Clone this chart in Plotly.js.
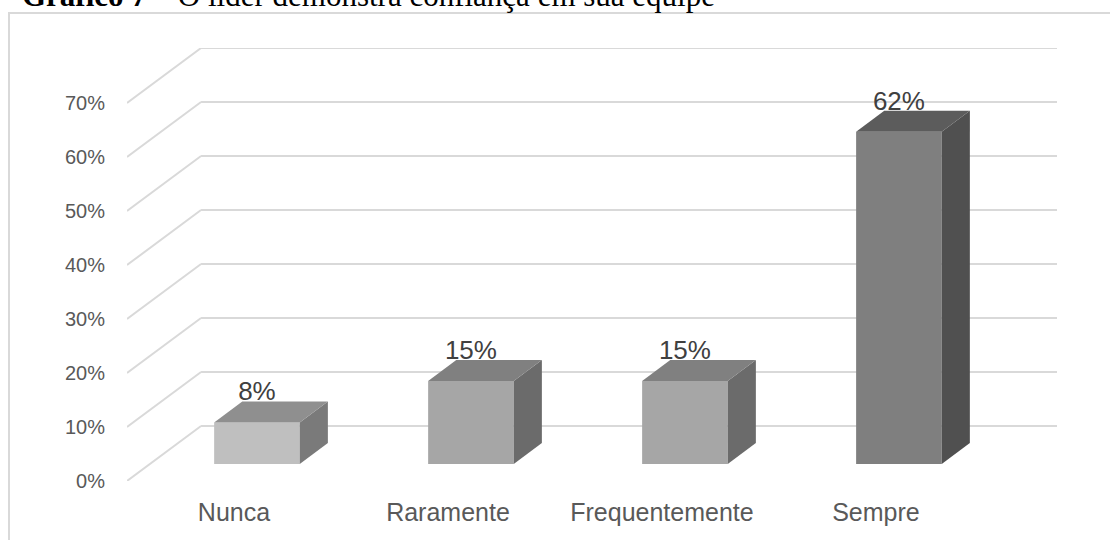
<!DOCTYPE html>
<html>
<head>
<meta charset="utf-8">
<script src="https://cdn.plot.ly/plotly-3.0.1.min.js"></script>
<style>
  html, body { margin: 0; padding: 0; background: #ffffff; }
  #wrap { position: relative; width: 1110px; height: 540px; overflow: hidden; }
  #frame { position: absolute; left: 8px; top: 12px; width: 1120px; height: 560px;
           border-left: 2px solid #d9d9d9; border-top: 2px solid #d9d9d9; pointer-events: none; }
  #chart { position: absolute; left: 0; top: 0; width: 1110px; height: 540px; }
</style>
</head>
<body>
<div id="wrap">
  <div id="frame"></div>
  <div id="chart"></div>
</div>
<script>
// ---- data ----
const categories = ['Nunca', 'Raramente', 'Frequentemente', 'Sempre'];
const values = [7.69, 15.38, 15.38, 61.54];
const valueLabels = ['8%', '15%', '15%', '62%'];
const yTickValues = [0, 10, 20, 30, 40, 50, 60, 70];
const yTickLabels = ['0%', '10%', '20%', '30%', '40%', '50%', '60%', '70%'];
const frontColors = ['#bfbfbf', '#a6a6a6', '#a6a6a6', '#7f7f7f'];
const topColors = ['#8f8f8f', '#808080', '#808080', '#5c5c5c'];
const sideColors = ['#7a7a7a', '#6b6b6b', '#6b6b6b', '#505050'];

// ---- pseudo-3D geometry (in axis units) ----
const DX = 0.346;   // depth shift along x for full depth
const DY = 10.2;    // depth shift along y for full depth
const D0 = 0.31;    // front face depth of bars
const D1 = 0.69;    // back face depth of bars
const HW = 0.2;     // half width of bars
const X0 = -0.5;    // left edge of floor/front plane

const P = (x, y, d) => [x + d * DX, y + d * DY];

const traces = [];

// side and top faces
categories.forEach((c, i) => {
  const v = values[i];
  const side = [P(i + HW, 0, D0), P(i + HW, v, D0), P(i + HW, v, D1), P(i + HW, 0, D1), P(i + HW, 0, D0)];
  traces.push({
    type: 'scatter', mode: 'lines', fill: 'toself',
    x: side.map(p => p[0]), y: side.map(p => p[1]),
    fillcolor: sideColors[i], line: {width: 0, color: sideColors[i]},
    hoverinfo: 'skip', showlegend: false, cliponaxis: false
  });
  const top = [P(i - HW, v, D0), P(i + HW, v, D0), P(i + HW, v, D1), P(i - HW, v, D1), P(i - HW, v, D0)];
  traces.push({
    type: 'scatter', mode: 'lines', fill: 'toself',
    x: top.map(p => p[0]), y: top.map(p => p[1]),
    fillcolor: topColors[i], line: {width: 0, color: topColors[i]},
    hoverinfo: 'skip', showlegend: false, cliponaxis: false
  });
});

// front faces
traces.push({
  type: 'bar',
  x: categories.map((c, i) => i + D0 * DX),
  y: values,
  base: D0 * DY,
  width: 2 * HW,
  marker: {color: frontColors, line: {width: 0}},
  hoverinfo: 'skip', showlegend: false, cliponaxis: false
});

// value labels
traces.push({
  type: 'scatter', mode: 'text',
  x: categories.map((c, i) => i + D0 * DX),
  y: values.map(v => v + D1 * DY + 1.4),
  text: valueLabels,
  textposition: 'middle center',
  textfont: {family: 'Liberation Sans, Arial, sans-serif', size: 26, color: '#404040'},
  hoverinfo: 'skip', showlegend: false, cliponaxis: false
});

// back wall gridlines + diagonal side-wall lines
const xMax = categories.length - 0.5 + DX;
const shapes = [];
yTickValues.forEach(v => {
  shapes.push({type: 'line', layer: 'below', xref: 'x', yref: 'y',
    x0: X0, y0: v, x1: X0 + DX, y1: v + DY, line: {color: '#d9d9d9', width: 2}});
  shapes.push({type: 'line', layer: 'below', xref: 'x', yref: 'y',
    x0: X0 + DX, y0: v + DY, x1: xMax, y1: v + DY, line: {color: '#d9d9d9', width: 2}});
});

const layout = {
  width: 1110, height: 540,
  margin: {l: 127, r: 53, t: 48, b: 59},
  paper_bgcolor: 'rgba(0,0,0,0)',
  plot_bgcolor: 'rgba(0,0,0,0)',
  showlegend: false,
  title: {
    text: '<b>Gráfico 7</b> – O líder demonstra confiança em sua equipe',
    font: {family: 'Liberation Serif, Times New Roman, serif', size: 31, color: '#000000'},
    xref: 'container', yref: 'container', x: 22 / 1110, xanchor: 'left',
    y: 1 - 6 / 540, yanchor: 'bottom'
  },
  xaxis: {
    type: 'linear', range: [X0, xMax], fixedrange: true,
    showgrid: false, zeroline: false, showline: false,
    tickvals: categories.map((c, i) => i), ticktext: categories,
    ticks: '', ticklabelstandoff: 14,
    tickfont: {family: 'Liberation Sans, Arial, sans-serif', size: 25, color: '#595959'}
  },
  yaxis: {
    range: [0, 70 + DY], fixedrange: true,
    showgrid: false, zeroline: false, showline: false,
    tickvals: yTickValues, ticktext: yTickLabels,
    ticks: '', ticklabelstandoff: 21,
    tickfont: {family: 'Liberation Sans, Arial, sans-serif', size: 20, color: '#595959'}
  },
  shapes: shapes
};

Plotly.newPlot('chart', traces, layout, {displayModeBar: false, staticPlot: true});
</script>
</body>
</html>
